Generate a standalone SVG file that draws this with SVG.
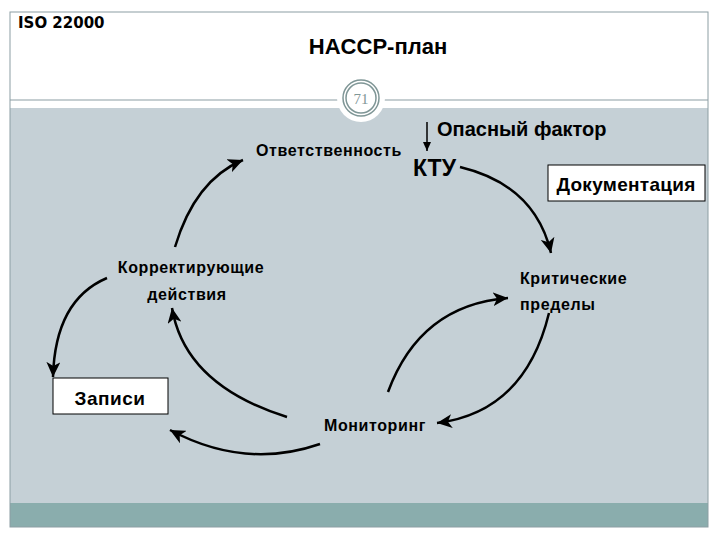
<svg xmlns="http://www.w3.org/2000/svg" width="720" height="540" viewBox="0 0 720 540">
<defs>
<style>
.lbl{font-family:"Liberation Sans",Arial,sans-serif;font-weight:bold;fill:#000}
.sm{font-size:16px;letter-spacing:0.6px}
.con{fill:none;stroke:#000;stroke-width:2.5;marker-end:url(#ah)}
.box{fill:#fff;stroke:#000;stroke-width:1}
</style>
<marker id="ah" markerUnits="userSpaceOnUse" markerWidth="16" markerHeight="14" refX="15" refY="7" orient="auto">
<path d="M0,0 L15,7 L0,14 L4,7 z" fill="#000"/>
</marker>
<marker id="ahs" markerUnits="userSpaceOnUse" markerWidth="10" markerHeight="10" refX="9" refY="5" orient="auto">
<path d="M0,1 L9,5 L0,9 z" fill="#000"/>
</marker>
</defs>
<rect x="0" y="0" width="720" height="540" fill="#fff"/>
<g id="frame">
<rect x="10" y="108" width="698" height="395" fill="#c5d0d6"/>
<rect x="10" y="503" width="698" height="24" fill="#8aadad"/>
<rect x="10" y="12" width="698" height="515" fill="none" stroke="#8c9ea3" stroke-width="1"/>
<line x1="10" y1="100" x2="708" y2="100" stroke="#8c9ea3" stroke-width="1.2"/>
</g>
<g id="header">
<text x="18" y="28" font-family="DejaVu Sans,Verdana,sans-serif" font-weight="bold" font-size="15">ISO 22000</text>
<text x="378" y="54" class="lbl" font-size="22" text-anchor="middle">HACCP-план</text>
</g>
<g id="badge">
<circle cx="361" cy="98" r="24" fill="#fff"/>
<circle cx="361" cy="98" r="18" fill="#fff" stroke="#7f9696" stroke-width="1.5"/>
<circle cx="361" cy="98" r="15" fill="none" stroke="#7f9696" stroke-width="1.5"/>
<text x="361" y="103.5" font-family="Liberation Serif,Times New Roman,serif" font-size="15" fill="#7f9696" text-anchor="middle">71</text>
</g>
<g id="connectors">
<path class="con" d="M175,247 Q195,180 243,160"/>
<path class="con" d="M460,167 Q535,185 551,253"/>
<path class="con" d="M549,313 Q525,412 437,423"/>
<path class="con" d="M388,392 Q420,305 508,298"/>
<path class="con" d="M320,444 Q245,470 170,430"/>
<path class="con" d="M287,417 Q185,385 172,308"/>
<path class="con" d="M107,278 Q55,300 53,377"/>
<line x1="427" y1="122" x2="427" y2="151" stroke="#000" stroke-width="1.5" marker-end="url(#ahs)"/>
</g>
<g id="n-hazard"><text x="437" y="136" class="lbl" font-size="20">Опасный фактор</text></g>
<g id="n-ktu"><text x="413" y="176" class="lbl" font-size="23">КТУ</text></g>
<g id="n-doc"><rect class="box" x="548" y="165" width="157" height="36"/><text x="626" y="191" class="lbl" font-size="19" letter-spacing="0.3" text-anchor="middle">Документация</text></g>
<g id="n-resp"><text x="256" y="156" class="lbl sm">Ответственность</text></g>
<g id="n-corr"><text x="191" y="273" class="lbl sm" text-anchor="middle">Корректирующие</text><text x="187" y="300" class="lbl sm" text-anchor="middle">действия</text></g>
<g id="n-crit"><text x="520" y="284" class="lbl sm">Критические</text><text x="520" y="310" class="lbl sm">пределы</text></g>
<g id="n-rec"><rect class="box" x="53" y="378" width="115" height="36"/><text x="110" y="405" class="lbl" font-size="19" letter-spacing="0.5" text-anchor="middle">Записи</text></g>
<g id="n-mon"><text x="324" y="431" class="lbl sm">Мониторинг</text></g>
</svg>
